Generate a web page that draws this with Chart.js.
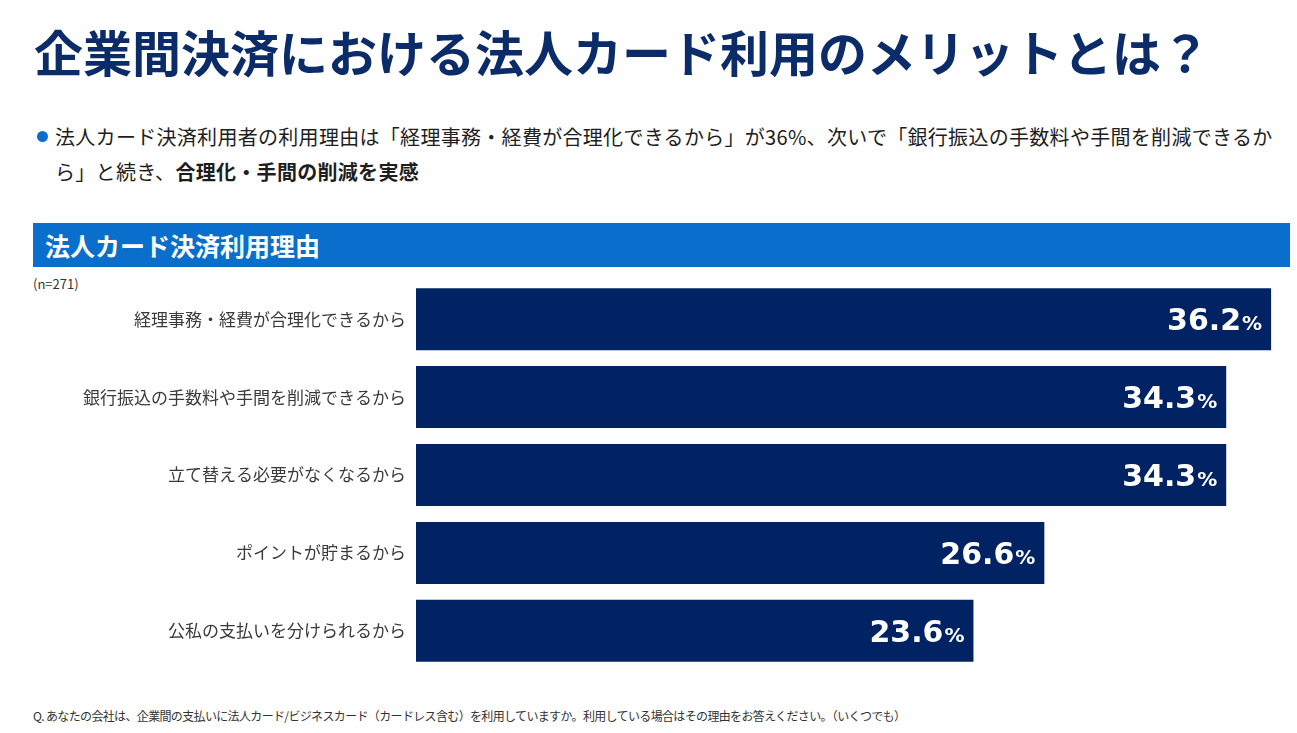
<!DOCTYPE html>
<html lang="ja">
<head>
<meta charset="utf-8">
<script src="https://cdn.jsdelivr.net/npm/chart.js@4"></script>
<style>
  html, body { margin: 0; padding: 0; background: #fff; }
  body { width: 1297px; height: 733px; position: relative; overflow: hidden;
         font-family: "Noto Sans CJK JP", "Noto Sans", sans-serif; }
  .title { position: absolute; left: 34px; top: 20px; font-size: 49px; font-weight: 700;
           color: #0b2c68; white-space: nowrap; line-height: 62px; }
  .bullet { position: absolute; left: 55px; top: 119px; font-size: 20px; color: #1e1e1e;
            line-height: 35px; white-space: nowrap; letter-spacing: 0.3px; }
  .dot { position: absolute; left: 37px; top: 131px; width: 11px; height: 11px;
         border-radius: 50%; background: #0a6fcc; }
  .bar { position: absolute; left: 33px; top: 223px; width: 1257px; height: 44px;
         background: #0a6fcc; color: #fff; font-size: 25px; font-weight: 700;
         line-height: 44px; padding-left: 12px; box-sizing: border-box; }
  .n { position: absolute; left: 33px; top: 274px; font-size: 13px; color: #333; }
  .foot { position: absolute; left: 33px; top: 707px; font-size: 12px; color: #333;
          white-space: nowrap; letter-spacing: -0.65px; }
  #wrap { position: absolute; left: 0; top: 260px; width: 1297px; height: 430px; }
</style>
</head>
<body>
<div class="title">企業間決済における法人カード利用のメリットとは？</div>
<div class="dot"></div>
<div class="bullet">法人カード決済利用者の利用理由は「経理事務・経費が合理化できるから」が36%、次いで「銀行振込の手数料や手間を削減できるか<br>ら」と続き、<b>合理化・手間の削減を実感</b></div>
<div class="bar">法人カード決済利用理由</div>
<div class="n">(n=271)</div>
<div id="wrap"><canvas id="chart"></canvas></div>
<div class="foot">Q. あなたの会社は、企業間の支払いに法人カード/ビジネスカード（カードレス含む）を利用していますか。利用している場合はその理由をお答えください。（いくつでも）</div>

<script>
// Data
const categories = [
    '経理事務・経費が合理化できるから',
    '銀行振込の手数料や手間を削減できるから',
    '立て替える必要がなくなるから',
    'ポイントが貯まるから',
    '公私の支払いを分けられるから'
];
const values = [36.2, 34.3, 34.3, 26.6, 23.6];
const X_MAX = 37;

// Draw "36.2%" inside the bar end, with a smaller % sign
const valueLabels = {
    id: 'valueLabels',
    afterDatasetsDraw(chart) {
        const c = chart.ctx;
        const meta = chart.getDatasetMeta(0);
        c.save();
        c.fillStyle = '#ffffff';
        c.textBaseline = 'alphabetic';
        c.textAlign = 'right';
        meta.data.forEach((bar, i) => {
            const right = bar.x - 9;
            const base = bar.y + 11;
            c.font = 'bold 20px "DejaVu Sans"';
            const pw = c.measureText('%').width;
            c.fillText('%', right, base);
            c.font = 'bold 30px "DejaVu Sans"';
            c.fillText(values[i].toFixed(1), right - pw - 1, base);
        });
        c.restore();
    }
};

new Chart(document.getElementById('chart'), {
    type: 'bar',
    data: {
        labels: categories,
        datasets: [{
            data: values,
            backgroundColor: '#012363',
            borderWidth: 0,
            barPercentage: 0.795,
            categoryPercentage: 1
        }]
    },
    options: {
        indexAxis: 'y',
        responsive: true,
        maintainAspectRatio: false,
        animation: false,
        layout: { padding: { top: 0, bottom: 0, right: 7, left: 0 } },
        plugins: {
            legend: { display: false },
            tooltip: { enabled: false }
        },
        scales: {
            x: {
                min: 0,
                max: X_MAX,
                display: false
            },
            y: {
                grid: { display: false, drawTicks: false },
                border: { display: false },
                ticks: {
                    padding: 10,
                    color: '#3a3a3a',
                    font: { size: 17, family: '"Noto Sans CJK JP"' }
                },
                afterFit(scale) { scale.width = 416; }
            }
        }
    },
    plugins: [valueLabels]
});
</script>
</body>
</html>
